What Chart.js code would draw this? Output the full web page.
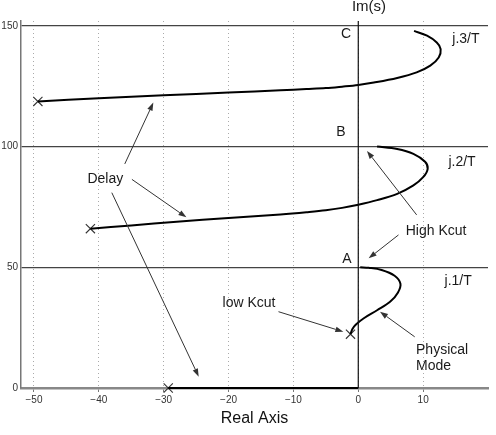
<!DOCTYPE html>
<html>
<head>
<meta charset="utf-8">
<script src="https://cdn.jsdelivr.net/npm/chart.js@4.4.0/dist/chart.umd.min.js"></script>
<style>
  body { margin: 0; background: #fff; }
  #wrap { width: 496px; height: 435px; }
</style>
</head>
<body>
<div id="wrap"><canvas id="locusChart"></canvas></div>
<script>
// tick labels
const xTicks = [-50, -40, -30, -20, -10, 0, 10];
const yTicks = [0, 50, 100, 150];

// branch on the real axis (delay pole at -29)
const branch0X = [-29.3, 0];
const branch0Y = [0, 0];

// physical mode, from low Kcut pole up to A
const branch1X = [-1.2, -0.9, -0.4, 0.8, 2.9, 4.9, 6.1, 6.5, 5.6, 3.6, 1.6, 0.3];
const branch1Y = [22.3, 24.4, 26.2, 28.8, 32.2, 35.7, 39.5, 43.2, 46.5, 48.9, 49.8, 50];

// j.2/T branch
const branch2X = [-41.3, -35, -28, -20, -12, -8, -5, -2.5, 0, 2.9, 6, 8.5, 10, 10.7, 10.3, 8.5, 6, 2.9];
const branch2Y = [66, 67.3, 68.9, 70.4, 71.9, 72.8, 73.6, 74.6, 75.9, 77.8, 80.4, 83.9, 87.3, 90.8, 93.7, 97, 99, 100];

// j.3/T branch
const branch3X = [-49.4, -40, -30, -20, -12, -8, -5, -2.5, 0, 2.4, 6, 9, 11.1, 12.4, 12.7, 12.1, 10.6, 8.6];
const branch3Y = [118.7, 120.0, 121.2, 122.4, 123.3, 123.8, 124.2, 124.8, 125.5, 126.5, 128.4, 130.7, 133.5, 136.9, 140.4, 143.1, 145.9, 147.9];

// starting poles (crosses)
const poleX = [-29.3, -1.2, -41.3, -49.4];
const poleY = [0, 22.3, 66, 118.7];

// imaginary axis
const imAxisX = [0, 0];
const imAxisY = [0, 152];

const pts = (xs, ys) => xs.map((x, i) => ({ x: x, y: ys[i] }));

// annotations: text labels [text, x, y, align] and arrows [x1, y1, x2, y2] in data units
const labels = [
  ["Delay", -39.0, 86.6, "center"],
  ["High Kcut", 12.0, 65.0, "center"],
  ["low Kcut", -16.85, 35.2, "center"],
  ["Physical", 8.9, 15.8, "left"],
  ["Mode", 8.9, 9.2, "left"],
  ["A", -1.74, 53.4, "center"],
  ["B", -2.67, 106, "center"],
  ["C", -1.9, 146.6, "center"],
  ["j.1/T", 15.4, 44.3, "center"],
  ["j.2/T", 16.0, 93.6, "center"],
  ["j.3/T", 16.6, 144.5, "center"],
];
const arrows = [
  [-36.0, 92.8, -31.6, 118.2],
  [-34.9, 86.4, -26.5, 70.7],
  [-38.0, 80.9, -24.6, 4.7],
  [9.0, 71.7, 1.34, 98.2],
  [6.2, 63.4, 1.6, 53.7],
  [-12.3, 31.6, -2.3, 23.3],
  [8.7, 21.2, 3.35, 31.6],
];

const annotate = {
  id: "annotate",
  afterDatasetsDraw(chart) {
    const ctx = chart.ctx;
    const xs = chart.scales.x, ys = chart.scales.y;
    ctx.save();
    ctx.strokeStyle = "#333";
    ctx.fillStyle = "#333";
    ctx.lineWidth = 1;
    arrows.forEach(a => {
      const x1 = xs.getPixelForValue(a[0]), y1 = ys.getPixelForValue(a[1]);
      const x2 = xs.getPixelForValue(a[2]), y2 = ys.getPixelForValue(a[3]);
      const ang = Math.atan2(y2 - y1, x2 - x1);
      const len = 8, w = 2.8;
      const bx = x2 - len * Math.cos(ang), by = y2 - len * Math.sin(ang);
      ctx.beginPath();
      ctx.moveTo(x1, y1);
      ctx.lineTo(bx, by);
      ctx.stroke();
      ctx.beginPath();
      ctx.moveTo(x2, y2);
      ctx.lineTo(bx + w * Math.sin(ang), by - w * Math.cos(ang));
      ctx.lineTo(bx - w * Math.sin(ang), by + w * Math.cos(ang));
      ctx.closePath();
      ctx.fill();
    });
    ctx.fillStyle = "#1a1a1a";
    ctx.textBaseline = "middle";
    ctx.font = "14px 'Liberation Sans', Arial, sans-serif";
    labels.forEach(l => {
      ctx.textAlign = l[3];
      ctx.fillText(l[0], xs.getPixelForValue(l[1]), ys.getPixelForValue(l[2]));
    });
    ctx.font = "15px 'Liberation Sans', Arial, sans-serif";
    ctx.textAlign = "center";
    ctx.fillText("Im(s)", xs.getPixelForValue(1.65), 7);
    ctx.restore();
  }
};

const curve = (data) => ({
  data: data,
  showLine: true,
  borderColor: "#000",
  borderWidth: 2,
  pointRadius: 0,
  tension: 0.35,
  fill: false,
  clip: false,
});

new Chart(document.getElementById("locusChart").getContext("2d"), {
  type: "scatter",
  data: {
    datasets: [
      { data: pts(imAxisX, imAxisY), showLine: true, borderColor: "#111", borderWidth: 1.2, pointRadius: 0 },
      curve(pts(branch0X, branch0Y)),
      curve(pts(branch1X, branch1Y)),
      curve(pts(branch2X, branch2Y)),
      curve(pts(branch3X, branch3Y)),
      {
        data: pts(poleX, poleY),
        showLine: false,
        clip: false,
        pointStyle: "crossRot",
        pointRadius: 6.5,
        borderWidth: 1.1,
        borderColor: "#333",
        backgroundColor: "#333",
      },
    ],
  },
  options: {
    responsive: true,
    maintainAspectRatio: false,
    animation: false,
    layout: { padding: { top: 21, right: 8, left: 0, bottom: 0 } },
    plugins: { legend: { display: false }, tooltip: { enabled: false } },
    scales: {
      x: {
        type: "linear",
        min: -52,
        max: 20,
        afterBuildTicks: (s) => { s.ticks = xTicks.map(v => ({ value: v })); },
        afterFit: (s) => { s.height = 47; },
        ticks: {
          padding: 2,
          color: "#333",
          font: { family: "'Liberation Sans', Arial, sans-serif", size: 10 },
          callback: (v) => String(v).replace("-", "\u2212"),
        },
        grid: { color: "#aaa", lineWidth: 1, tickLength: 4, tickColor: "#777", tickBorderDash: [] },
        border: { color: "#888", width: 2.5, dash: [1, 3] },
        title: {
          display: true,
          text: "Real Axis",
          color: "#111",
          font: { family: "'Liberation Sans', Arial, sans-serif", size: 16 },
          padding: { top: 0, bottom: 7 },
        },
      },
      y: {
        type: "linear",
        min: 0,
        max: 152,
        afterBuildTicks: (s) => { s.ticks = yTicks.map(v => ({ value: v })); },
        afterFit: (s) => { s.width = 21; },
        ticks: {
          padding: 3,
          color: "#333",
          font: { family: "'Liberation Sans', Arial, sans-serif", size: 10 },
        },
        grid: { color: "#444", lineWidth: 1.3, drawTicks: false },
        border: { color: "#777", width: 1.5 },
      },
    },
  },
  plugins: [annotate],
});
</script>
</body>
</html>
